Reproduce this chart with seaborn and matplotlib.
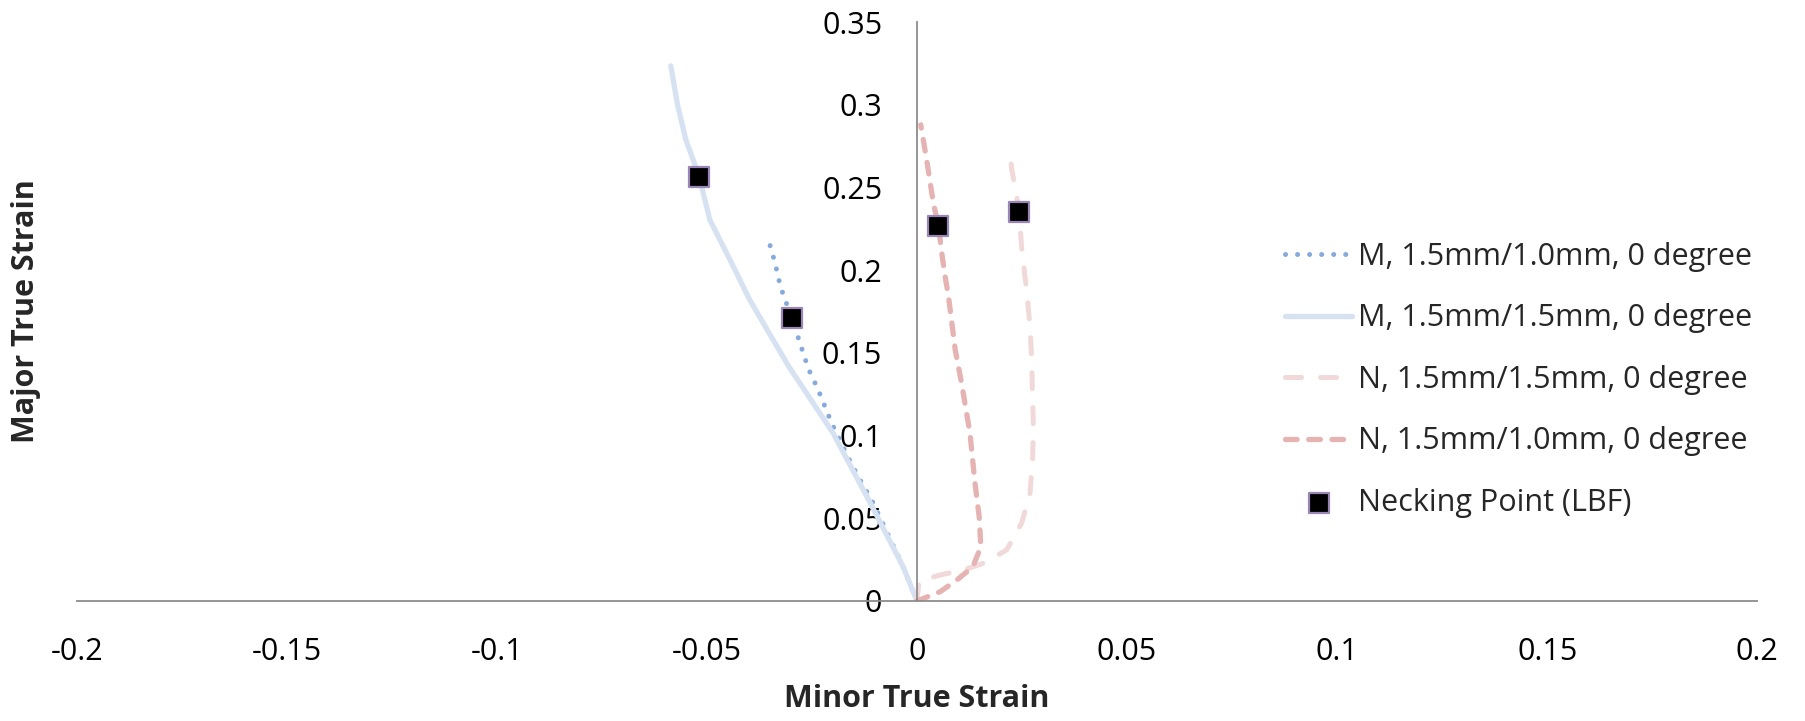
import matplotlib
matplotlib.use("Agg")
import matplotlib.pyplot as plt
import seaborn as sns

# ---------------- data ----------------
m10_x = [0.0, -0.0037, -0.0104, -0.0140, -0.0167, -0.0203, -0.0235, -0.0259, -0.0286, -0.0298, -0.0325, -0.0338, -0.0354]
m10_y = [0.0, 0.0228, 0.0591, 0.0752, 0.0883, 0.1074, 0.1276, 0.1407, 0.1618, 0.1709, 0.1900, 0.2045, 0.2187]

m15_x = [0.0, -0.0033, -0.0115, -0.0200, -0.0305, -0.0347, -0.0398, -0.0445, -0.0493, -0.0519, -0.0550, -0.0570, -0.0586]
m15_y = [0.0, 0.0207, 0.0611, 0.1016, 0.1417, 0.1598, 0.1820, 0.2062, 0.2304, 0.2570, 0.2787, 0.3000, 0.3235]

n15_x = [0.0, 0.0005, 0.0055, 0.0110, 0.0158, 0.0213, 0.0249, 0.0269, 0.0275, 0.0277, 0.0275, 0.0273, 0.0269,
         0.0261, 0.0257, 0.0249, 0.0243, 0.0236, 0.0225, 0.0221]
n15_y = [0.0, 0.0120, 0.0157, 0.0187, 0.0228, 0.0308, 0.0470, 0.0651, 0.0852, 0.1054, 0.1235, 0.1457, 0.1658,
         0.1880, 0.1961, 0.2142, 0.2354, 0.2465, 0.2616, 0.2727]

n10_x = [0.0, 0.0055, 0.0095, 0.0133, 0.0152, 0.0148, 0.0138, 0.0126, 0.0106, 0.0091, 0.0083, 0.0075, 0.0067,
         0.0059, 0.0051, 0.0039, 0.0023, 0.0009]
n10_y = [0.0, 0.0056, 0.0127, 0.0207, 0.0328, 0.0510, 0.0713, 0.1016, 0.1318, 0.1518, 0.1679, 0.1840, 0.1961,
         0.2102, 0.2269, 0.2404, 0.2666, 0.2878]

neck_x = [-0.0519, -0.0298, 0.0051, 0.0243]
neck_y = [0.2565, 0.1709, 0.2269, 0.2354]

labels = ["M, 1.5mm/1.0mm, 0 degree", "M, 1.5mm/1.5mm, 0 degree",
          "N, 1.5mm/1.5mm, 0 degree", "N, 1.5mm/1.0mm, 0 degree",
          "Necking Point (LBF)"]

x_ticks = [-0.2, -0.15, -0.1, -0.05, 0, 0.05, 0.1, 0.15, 0.2]
x_ticklabels = ["-0.2", "-0.15", "-0.1", "-0.05", "0", "0.05", "0.1", "0.15", "0.2"]
y_ticks = [0, 0.05, 0.1, 0.15, 0.2, 0.25, 0.3, 0.35]
y_ticklabels = ["0", "0.05", "0.1", "0.15", "0.2", "0.25", "0.3", "0.35"]

# ---------------- style ----------------
sns.set_style("white")
plt.rcParams["font.family"] = ["Open Sans", "DejaVu Sans"]
FS = 22

W, H = 1806, 721
fig = plt.figure(figsize=(W / 100, H / 100), dpi=100)
ax = fig.add_axes([76.7 / W, 1 - 601 / H, (1757.3 - 76.7) / W, (601 - 22) / H])

sns.lineplot(x=m10_x, y=m10_y, sort=False, estimator=None, ax=ax, color="#86AADB",
             linewidth=3.6, linestyle=(0, (0.01, 2.4)), dash_capstyle="round",
             label=labels[0])
sns.lineplot(x=m15_x, y=m15_y, sort=False, estimator=None, ax=ax, color="#D6E2F2",
             linewidth=3.8, solid_capstyle="round", solid_joinstyle="round", label=labels[1])
sns.lineplot(x=n15_x, y=n15_y, sort=False, estimator=None, ax=ax, color="#F2D9D9",
             linewidth=3.6, linestyle=(0, (3.2, 3.8)), dash_capstyle="round",
             label=labels[2])
sns.lineplot(x=n10_x, y=n10_y, sort=False, estimator=None, ax=ax, color="#E6B3B3",
             linewidth=3.8, linestyle=(0, (2.2, 2.2)), dash_capstyle="round",
             label=labels[3])
sns.scatterplot(x=neck_x, y=neck_y, ax=ax, marker="s", s=190, color="black",
                edgecolor="#9A86B6", linewidth=1.6, label=labels[4], zorder=5)

ax.set_xlim(-0.2, 0.2)
ax.set_ylim(0, 0.35)
ax.set_xticks(x_ticks)
ax.set_xticklabels(x_ticklabels)
ax.set_yticks(y_ticks)
ax.set_yticklabels(y_ticklabels)

for s in ["top", "right"]:
    ax.spines[s].set_visible(False)
ax.spines["left"].set_position(("data", 0))
for s in ["left", "bottom"]:
    ax.spines[s].set_color("#8C8C8C")
    ax.spines[s].set_linewidth(1.3)

ax.tick_params(axis="both", direction="out", length=8, width=1.3, color="#8C8C8C",
               labelsize=FS, labelcolor="black")
ax.tick_params(axis="y", pad=17)
ax.tick_params(axis="x", pad=18)
ax.set_xlabel("")
ax.set_ylabel("")

fig.text(26 / W, 1 - 311.5 / H, "Major True Strain", rotation=90, ha="center", va="center",
         fontsize=FS, fontweight="bold")
fig.text(917 / W, 1 - 699 / H, "Minor True Strain", ha="center", va="center",
         fontsize=FS, fontweight="bold")

leg = ax.legend(loc="upper left", bbox_to_anchor=(1285 / W, 1 - 242 / H),
                bbox_transform=fig.transFigure, frameon=False, fontsize=FS,
                borderpad=0, borderaxespad=0, handlelength=2.2, handletextpad=0.2,
                labelspacing=1.03)

fig.savefig("out.png", dpi=100, facecolor="white")
